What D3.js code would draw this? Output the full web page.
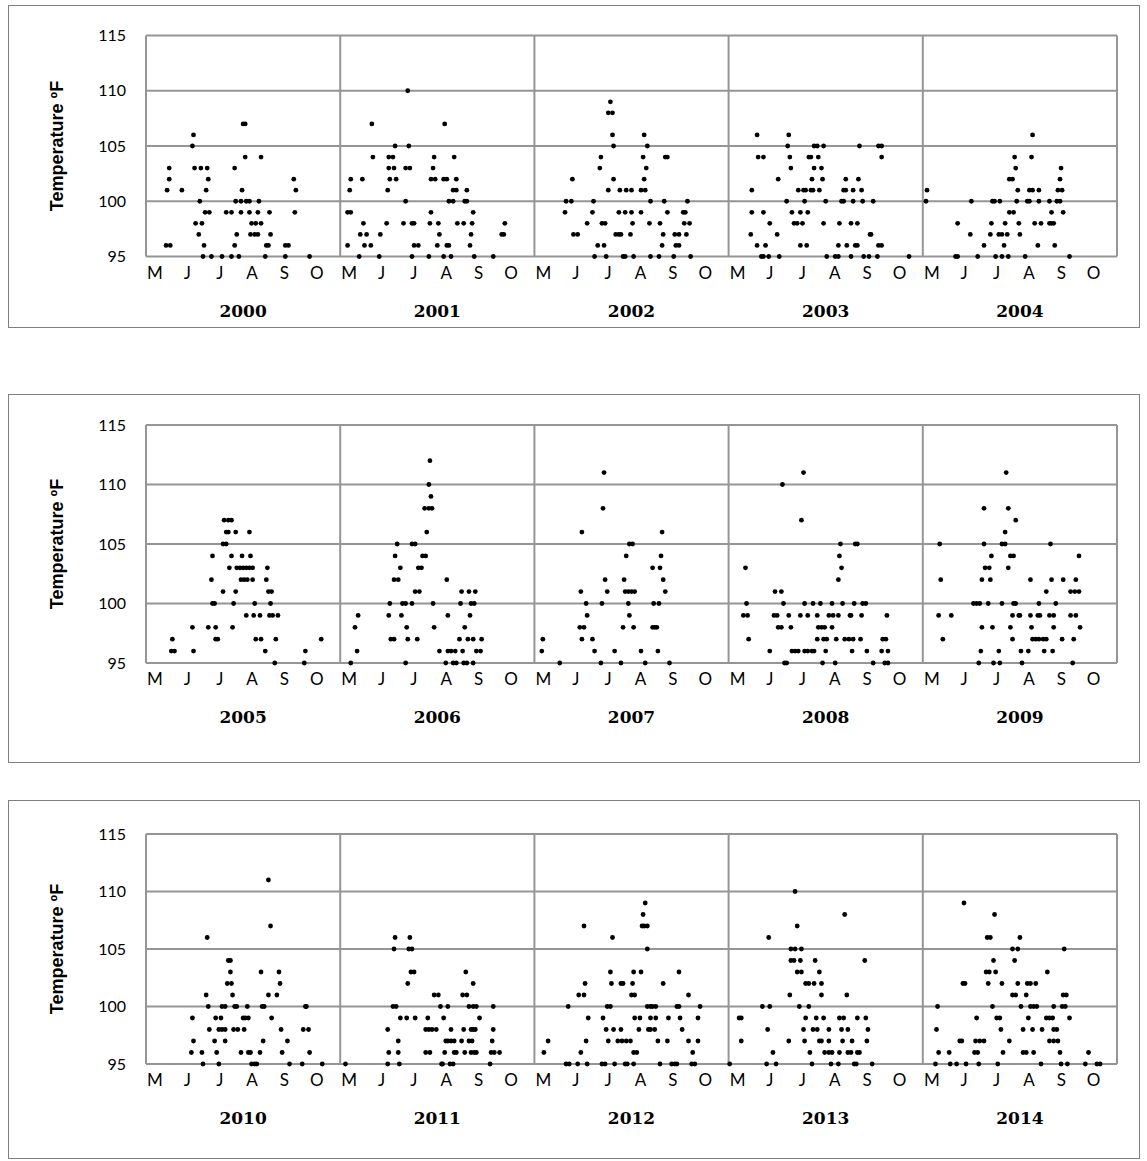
<!DOCTYPE html>
<html>
<head>
<meta charset="utf-8">
<script src="https://cdn.jsdelivr.net/npm/d3@7"></script>
<style>
body { margin: 0; background: #fff; }
</style>
</head>
<body>
<div class="canva"></div>
<script>
// days counted from May 1, grouped by daily max temperature (ºF)
const yr2000 = [[107,[92,94]],[106,[45]],[105,[44]],[104,[94,109]],[103,[22,46,52,58,84]],[102,[22,59,140]],[101,[20,34,57,91,142]],[100,[51,85,90,95,98,107]],[99,[56,60,76,81,90,98,106,117,141]],[98,[47,53,100,104,109]],[97,[50,86,99,103,106,118]],[96,[19,23,55,84,114,116,132,135]],[95,[54,62,72,81,88,113,132,155]]];
const yr2001 = [[110,[64]],[107,[30,99]],[105,[52,65]],[104,[31,46,50,89,108]],[103,[46,51,62,66,88]],[102,[10,21,47,53,86,90,98,101,110]],[101,[9,45,107,110,120]],[100,[62,103,107,118,120]],[99,[7,10,86,126]],[98,[22,44,60,68,70,85,93,111,117,125,156]],[97,[19,25,38,94,124,153,155]],[96,[7,23,29,70,74,92,101,103,123]],[95,[18,37,68,84,98,105,127,145]]];
const yr2002 = [[109,[72]],[108,[70,74]],[106,[74,104]],[105,[75,107]],[104,[63,103,124,126]],[103,[62,106]],[102,[36,75,104]],[101,[70,81,87,92,101,105]],[100,[30,35,56,110,123,145]],[99,[29,55,80,86,92,101,126,141,143]],[98,[50,64,67,93,109,119,142,147]],[97,[37,41,77,80,82,91,122,133,137,144]],[96,[60,66,121,134,137]],[95,[57,68,84,86,94,110,118,132,148]]];
const yr2003 = [[106,[27,57]],[105,[56,81,84,90,124,142,145]],[104,[28,33,58,76,78,85,145]],[103,[59,81,88]],[102,[47,79,89,111,123]],[101,[22,66,71,73,78,80,86,109,111,118,126]],[100,[55,72,92,107,109,118,127,137]],[99,[22,33,60,68,75]],[98,[39,62,65,70,90,105,116,122]],[97,[21,46,134,135]],[96,[27,35,68,74,104,112,120,122,142,145]],[95,[31,33,38,48,93,101,104,116,128,133,141,171]]];
const yr2004 = [[106,[104]],[104,[87,103]],[103,[88,131]],[102,[82,85,130]],[101,[4,90,101,104,110,128,132]],[100,[3,46,66,68,73,89,99,101,110,120,127,130]],[99,[82,86,122,133]],[98,[33,65,78,91,106,112,120,122,124]],[97,[45,64,72,75,80,92]],[96,[58,77,109,125]],[95,[31,33,52,69,75,81,97,139]]];
const yr2005 = [[107,[74,78,81]],[106,[76,78,85,98]],[105,[73,76]],[104,[63,81,91,99]],[103,[79,86,89,92,95,98,101,115]],[102,[62,90,93,96,101,114]],[101,[73,85,116,119]],[100,[63,65,83,103,118]],[99,[95,102,108,117,120,125]],[98,[44,59,66,82]],[97,[25,66,68,104,109,123,166]],[96,[24,27,45,113,151]],[95,[122,150]]];
const yr2006 = [[112,[85]],[110,[84]],[109,[86]],[108,[80,84,87]],[106,[82]],[105,[54,68,71]],[104,[52,78,81]],[103,[57,74,77]],[102,[51,55,101]],[101,[71,75,115,122,128]],[100,[47,59,62,68,88,114,124,127]],[99,[17,46,58,102,123]],[98,[14,63,89,118]],[97,[48,51,64,73,113,121,126,134]],[96,[16,94,102,105,109,116,129,133]],[95,[10,62,100,107,110,117,120,126]]];
const yr2007 = [[111,[66]],[108,[65]],[106,[45,121]],[105,[90,93]],[104,[87,120]],[103,[112,119]],[102,[67,85,122]],[101,[44,69,86,89,92,95,124]],[100,[49,64,89,113,118]],[99,[50,90]],[98,[43,47,84,94,112,114,116]],[97,[8,45,55]],[96,[7,57,76,101,117]],[95,[24,63,82,105,128]]];
const yr2008 = [[111,[71]],[110,[51]],[107,[69]],[105,[106,120,122]],[104,[105]],[103,[16,107]],[102,[104]],[101,[44,50]],[100,[17,52,72,80,87,98,108,119,127,130]],[99,[14,18,43,46,57,68,75,84,95,99,104,115,116,126,150]],[98,[47,50,59,85,88,91,98]],[97,[19,84,90,93,102,110,114,118,125,146,149]],[96,[39,60,63,66,72,75,79,81,92,117,131,145,151]],[95,[53,55,89,101,137,148,151]]];
const yr2009 = [[111,[79]],[108,[58,81]],[107,[88]],[106,[78]],[105,[16,58,75,78,121]],[104,[65,83,86,148]],[103,[59,63,81]],[102,[17,56,64,102,122,133,145]],[101,[117,140,144,148]],[100,[48,51,54,62,75,86,88,110,126]],[99,[15,27,85,91,92,102,109,111,120,124,140,145]],[98,[56,66,83,103,124,149]],[97,[19,85,104,107,110,114,117,132,143]],[96,[55,72,93,100,115,123]],[95,[53,67,73,94,142]]];
const yr2010 = [[111,[116]],[107,[118]],[106,[58]],[104,[78,80]],[103,[80,109,126]],[102,[77,81,127]],[101,[57,82,116,124]],[100,[59,72,75,84,86,96,110,112,151,152]],[99,[44,66,71,92,94,97,119]],[98,[60,69,72,75,83,87,93,128,149,154]],[97,[45,65,75,111,134]],[96,[43,53,67,90,97,99,108,129,155]],[95,[54,69,100,103,105,136,148,167]]];
const yr2011 = [[106,[52,66]],[105,[51,65,68]],[103,[67,70,119]],[102,[64,126]],[101,[89,93,116,120]],[100,[50,53,95,102,122,126,129,145]],[99,[57,63,71,83,98,132]],[98,[45,81,84,87,91,105,117,124,126,128,145]],[97,[55,100,102,105,108,115,122,125,144]],[96,[46,55,81,85,99,108,110,118,124,127,129,143,146,151]],[95,[5,45,56,96,97,104,107,142]]];
const yr2012 = [[109,[105]],[108,[103]],[107,[47,102,104,107]],[106,[74]],[105,[107]],[103,[72,94,101,137]],[102,[48,73,82,84,93,122]],[101,[42,47,92,95,146]],[100,[32,69,72,107,110,112,115,135,137,157]],[99,[51,65,95,100,110,115,127,138,155]],[98,[68,75,82,99,108,110,114,140]],[97,[13,49,70,79,83,87,91,117,126,146,155]],[96,[9,44,94,97,150]],[95,[30,33,41,50,64,67,76,86,88,94,119,130,133,135,149,152]]];
const yr2013 = [[110,[63]],[108,[110]],[107,[65]],[106,[38]],[105,[59,63,69]],[104,[59,62,68,82,129]],[103,[65,69,86]],[102,[73,76,81,88]],[101,[58,88,112]],[100,[32,39,67,76]],[99,[10,12,73,83,90,105,109,122,130]],[98,[37,71,80,84,95,107,113,132]],[97,[12,57,72,86,88,95,108,117,131]],[96,[42,77,91,95,98,105,113,116,122,124]],[95,[1,36,45,79,97,104,119,121,136]]];
const yr2014 = [[109,[39]],[108,[68]],[106,[61,64,92]],[105,[85,90,134]],[104,[67,87]],[103,[60,63,69,118]],[102,[38,40,62,75,90,99,102,107]],[101,[85,88,98,133,136]],[100,[14,66,93,102,105,108,124,132,135]],[99,[51,70,73,100,117,120,123,139]],[98,[13,74,95,104,113,124,127]],[97,[35,37,50,54,58,82,120,124,128]],[96,[15,25,49,52,76,95,98,105,130,157]],[95,[12,26,32,41,53,71,112,131,137,154,165,168]]];

const months = ["M","J","J","A","S","O"];
const yTicks = [95, 100, 105, 110, 115];
const panelYears = [[2000,2001,2002,2003,2004],[2005,2006,2007,2008,2009],[2010,2011,2012,2013,2014]];
const byYear = {2000:yr2000,2001:yr2001,2002:yr2002,2003:yr2003,2004:yr2004,2005:yr2005,2006:yr2006,2007:yr2007,2008:yr2008,2009:yr2009,2010:yr2010,2011:yr2011,2012:yr2012,2013:yr2013,2014:yr2014};

const W = 1147, H = 1161;
const svg = d3.select(".canva").append("svg")
  .attr("width", W)
  .attr("height", H);

// panel layout (box and plot area)
const layout = [
  {boxTop: 5,   boxBottom: 327,  top: 35.5,  bottom: 256.5},
  {boxTop: 394, boxBottom: 762,  top: 425,   bottom: 663},
  {boxTop: 800, boxBottom: 1158, top: 834,   bottom: 1064}
];

const gridColor = "#959595";

panelYears.forEach((years, i) => {
  const L = layout[i];
  const g = svg.append("g");

  g.append("rect")
    .attr("x", 8.5)
    .attr("y", L.boxTop + 0.5)
    .attr("width", 1131)
    .attr("height", L.boxBottom - L.boxTop)
    .attr("fill", "none")
    .attr("stroke", "#7f7f7f")
    .attr("stroke-width", 1);

  const xYear = d3.scaleBand().domain(years).range([146, 1117]).paddingInner(0);
  const xDay = d3.scaleLinear().domain([0, 184]).range([0, xYear.bandwidth()]);
  const y = d3.scaleLinear().domain([95, 115]).range([L.bottom, L.top]);

  // horizontal grid
  g.selectAll(".hgrid").data(yTicks).enter().append("line")
    .attr("x1", 146).attr("x2", 1117)
    .attr("y1", d => y(d)).attr("y2", d => y(d))
    .attr("stroke", gridColor).attr("stroke-width", 2);

  // year separators
  const edges = years.map(yr => xYear(yr)).concat([xYear.range()[1]]);
  g.selectAll(".vgrid").data(edges).enter().append("line")
    .attr("x1", d => d).attr("x2", d => d)
    .attr("y1", L.top).attr("y2", L.bottom)
    .attr("stroke", gridColor).attr("stroke-width", 2);

  // y tick labels
  g.selectAll(".ytick").data(yTicks).enter().append("text")
    .attr("x", 126)
    .attr("y", d => y(d))
    .attr("dy", "0.35em")
    .attr("text-anchor", "end")
    .attr("font-family", "Lato, 'Liberation Sans', sans-serif")
    .attr("font-size", 16)
    .attr("fill", "#000")
    .text(d => d);

  // axis title
  g.append("text")
    .attr("transform", `translate(63,${(L.top + L.bottom) / 2}) rotate(-90)`)
    .attr("text-anchor", "middle")
    .attr("font-family", "'Liberation Sans', Arial, sans-serif")
    .attr("font-weight", "bold")
    .attr("font-size", 18)
    .text("Temperature ºF");

  years.forEach(yr => {
    const x0 = xYear(yr);
    const mband = d3.scaleBand().domain(d3.range(6)).range([x0, x0 + xYear.bandwidth()]);

    g.selectAll(".m" + yr).data(months).enter().append("text")
      .attr("x", (d, k) => mband(k) + 9)
      .attr("y", L.bottom + 22)
      .attr("text-anchor", "middle")
      .attr("font-family", "Lato, 'Liberation Sans', sans-serif")
      .attr("font-size", 17)
      .text(d => d);

    g.append("text")
      .attr("x", x0 + xYear.bandwidth() / 2)
      .attr("y", L.bottom + 60)
      .attr("text-anchor", "middle")
      .attr("font-family", "'DejaVu Serif', serif")
      .attr("font-weight", "bold")
      .attr("font-size", 17)
      .text(yr);

    const pts = byYear[yr].flatMap(([t, days]) => days.map(d => ({day: d, temp: t})));
    g.selectAll(".p" + yr).data(pts).enter().append("circle")
      .attr("cx", d => x0 + xDay(d.day))
      .attr("cy", d => y(d.temp))
      .attr("r", 2.4)
      .attr("fill", "#000");
  });
});
</script>
</body>
</html>
